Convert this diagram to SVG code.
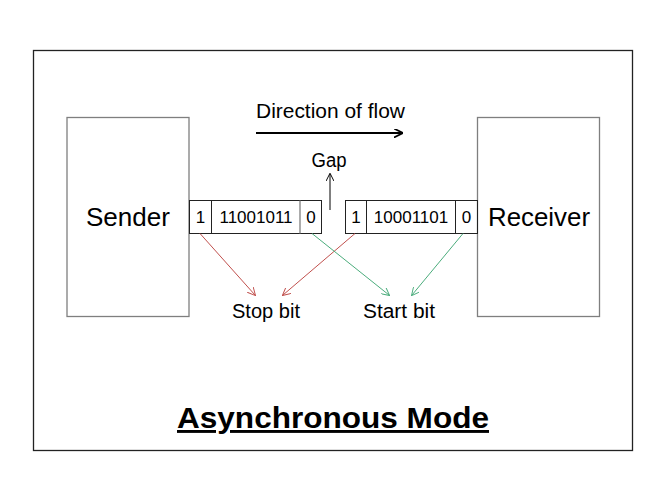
<svg xmlns="http://www.w3.org/2000/svg" width="666" height="500" viewBox="0 0 666 500">
<defs>
<style>
text{font-family:"Liberation Sans",Arial,sans-serif;fill:#000}
.box{fill:#fff;stroke:#7f7f7f;stroke-width:1.3}
.cell{fill:none;stroke:#222;stroke-width:1}
.bit{font-size:17px;text-anchor:middle}
.lbl{font-size:20px;text-anchor:middle}
.big{font-size:26px;text-anchor:middle}
</style>
<marker id="ar" viewBox="0 0 10 10" refX="9" refY="5" markerWidth="8" markerHeight="8" orient="auto" markerUnits="userSpaceOnUse"><path d="M0,0 L10,5 L0,10" fill="none" stroke="#c0504d" stroke-width="1.2"/></marker>
<marker id="ag" viewBox="0 0 10 10" refX="9" refY="5" markerWidth="8" markerHeight="8" orient="auto" markerUnits="userSpaceOnUse"><path d="M0,0 L10,5 L0,10" fill="none" stroke="#4bac7c" stroke-width="1.2"/></marker>
<marker id="ak" viewBox="0 0 10 10" refX="9" refY="5" markerWidth="8" markerHeight="8" orient="auto" markerUnits="userSpaceOnUse"><path d="M0,0 L10,5 L0,10" fill="none" stroke="#000" stroke-width="1.2"/></marker>
<marker id="ab" viewBox="0 0 10 10" refX="9" refY="5" markerWidth="9" markerHeight="9" orient="auto" markerUnits="userSpaceOnUse"><path d="M0,0 L10,5 L0,10" fill="none" stroke="#000" stroke-width="2"/></marker>
</defs>
<rect width="666" height="500" fill="#fff"/>
<rect x="33.5" y="50.5" width="599" height="400" fill="none" stroke="#222" stroke-width="1.3"/>
<g id="sender"><rect class="box" x="67" y="117.5" width="122" height="199"/><text class="big" x="128" y="226" textLength="84" lengthAdjust="spacingAndGlyphs">Sender</text></g>
<g id="receiver"><rect class="box" x="477.5" y="117.5" width="122" height="199"/><text class="big" x="539" y="226" textLength="102" lengthAdjust="spacingAndGlyphs">Receiver</text></g>
<g id="frame1">
<rect class="cell" x="189.5" y="200.5" width="132" height="33"/>
<line class="cell" x1="211.5" y1="200.5" x2="211.5" y2="233.5"/>
<line x1="300" y1="200.5" x2="300" y2="233.5" stroke="#7f7f7f" stroke-width="1.3"/>
<text class="bit" x="200.5" y="223">1</text><text class="bit" x="256" y="223">11001011</text><text class="bit" x="311" y="223">0</text>
</g>
<g id="frame2">
<rect class="cell" x="345.5" y="200.5" width="132" height="33"/>
<line class="cell" x1="366.5" y1="200.5" x2="366.5" y2="233.5"/>
<line class="cell" x1="455.5" y1="200.5" x2="455.5" y2="233.5"/>
<text class="bit" x="356" y="223">1</text><text class="bit" x="411" y="223">10001101</text><text class="bit" x="466.5" y="223">0</text>
</g>
<g id="labels">
<text class="lbl" x="330.5" y="118" textLength="149" lengthAdjust="spacingAndGlyphs">Direction of flow</text>
<text class="lbl" x="329" y="167" textLength="35" lengthAdjust="spacingAndGlyphs">Gap</text>
<text class="lbl" x="266" y="318" textLength="68" lengthAdjust="spacingAndGlyphs">Stop bit</text>
<text class="lbl" x="399" y="318" textLength="72" lengthAdjust="spacingAndGlyphs">Start bit</text>
<text x="333" y="428" font-size="29" font-weight="bold" text-anchor="middle" text-decoration="underline" textLength="312" lengthAdjust="spacingAndGlyphs">Asynchronous Mode</text>
</g>
<g id="connectors" fill="none">
<line x1="256" y1="133" x2="402" y2="133" stroke="#000" stroke-width="2" marker-end="url(#ab)"/>
<line x1="330" y1="210" x2="330" y2="174" stroke="#000" stroke-width="1" marker-end="url(#ak)"/>
<line x1="200" y1="233.5" x2="255" y2="295" stroke="#c0504d" stroke-width="1" marker-end="url(#ar)"/>
<line x1="355" y1="233.5" x2="283" y2="295" stroke="#c0504d" stroke-width="1" marker-end="url(#ar)"/>
<line x1="312" y1="233.5" x2="389" y2="295" stroke="#4bac7c" stroke-width="1" marker-end="url(#ag)"/>
<line x1="463" y1="233.5" x2="412" y2="295" stroke="#4bac7c" stroke-width="1" marker-end="url(#ag)"/>
</g>
</svg>
